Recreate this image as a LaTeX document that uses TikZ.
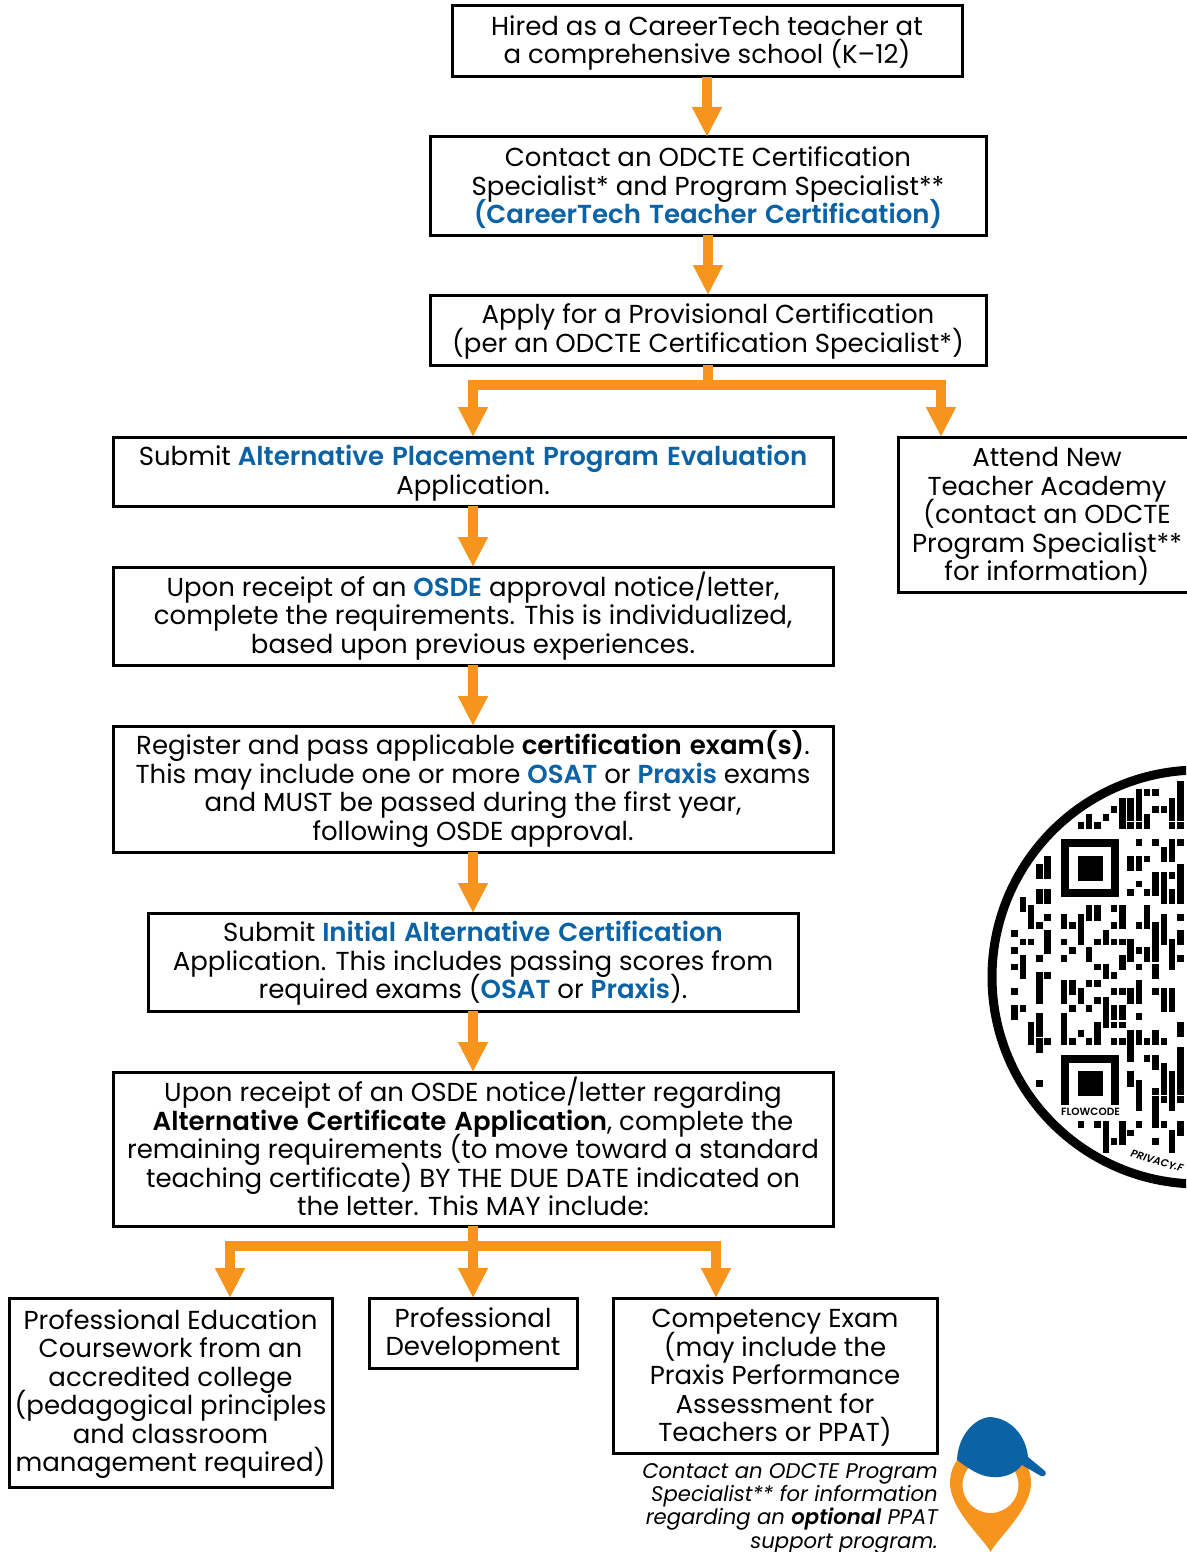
\documentclass[tikz,border=0pt]{standalone}
\usepackage{fontspec}
\setmainfont{Poppins}[BoldFont={Poppins SemiBold},BoldItalicFont={Poppins SemiBold Italic},BoldFeatures={WordSpace=1.3},BoldItalicFeatures={WordSpace=1.3}]
\usetikzlibrary{arrows.meta,calc}
\definecolor{ocorange}{HTML}{F7941D}
\definecolor{ocblue}{HTML}{0B63A5}
\newcommand{\bl}[1]{\textcolor{ocblue}{\textbf{#1}}}
\tikzset{
  flowbox/.style={draw=black,line width=3pt,fill=white,align=center,inner sep=0pt,outer sep=0pt,
    text=black,font=\fontsize{26}{28.5}\selectfont},
  arr/.style={draw=ocorange,line width=9.5pt,-{Triangle[length=30pt,width=28pt]},shorten >=0pt},
  stem/.style={draw=ocorange,line width=9.5pt},
  note/.style={align=right,inner sep=0pt,font=\fontsize{21.2}{23.3}\selectfont\itshape},
  qrlabel/.style={inner sep=0pt,font=\fontsize{10.5}{11}\selectfont\bfseries},
}
\newcommand{\topstrut}[1]{\leavevmode\vrule width 0pt height #1 depth 0pt\relax}
\newcommand{\botstrut}[1]{\vrule width 0pt height 0pt depth #1\relax}
\newcommand{\mybox}[6]{% name, x1, y1, x2, y2, text
  \node[flowbox,minimum width=#4pt-#2pt,minimum height=#5pt-#3pt] (#1) at ({(#2+#4)/2},{(#3+#5)/2}) {\topstrut{23.25pt}#6\botstrut{5.25pt}};}
\begin{document}
\begin{tikzpicture}[x=1pt,y=-1pt]
\lineskiplimit=-100pt
\lineskip=0pt
\useasboundingbox (0,0) rectangle (1186,1552);
\fill[white] (0,0) rectangle (1186,1552);

\mybox{b1}{452}{6}{962}{77}{Hired as a CareerTech teacher at\\a comprehensive school (K–12)}
\mybox{b2}{430}{137}{986}{235}{Contact an ODCTE Certification\\Specialist* and Program Specialist**\\\bl{(CareerTech Teacher Certification)}}
\mybox{b3}{430}{295}{986}{365}{Apply for a Provisional Certification\\(per an ODCTE Certification Specialist*)}
\mybox{b4}{113}{437}{833}{506}{Submit \bl{Alternative Placement Program Evaluation}\\Application.}
\mybox{nta}{898}{437}{1196}{592}{Attend New\\Teacher Academy\\(contact an ODCTE\\Program Specialist**\\for information)}
\mybox{b5}{113}{567}{833}{665}{Upon receipt of an \bl{OSDE} approval notice/letter,\\complete the requirements. This is individualized,\\based upon previous experiences.}
\mybox{b6}{113}{726}{833}{852}{Register and pass applicable \textbf{certification exam(s)}.\\This may include one or more \bl{OSAT} or \bl{Praxis} exams\\and MUST be passed during the first year,\\following OSDE approval.}
\mybox{b7}{148}{913}{798}{1011}{Submit \bl{Initial Alternative Certification}\\Application. This includes passing scores from\\required exams (\bl{OSAT} or \bl{Praxis}).}
\mybox{b8}{113}{1072}{833}{1226}{Upon receipt of an OSDE notice/letter regarding\\\textbf{Alternative Certificate Application}, complete the\\remaining requirements (to move toward a standard\\teaching certificate) BY THE DUE DATE indicated on\\the letter. This MAY include:}
\mybox{b9}{9}{1298}{332}{1487}{Professional Education\\Coursework from an\\accredited college\\(pedagogical principles\\and classroom\\management required)}
\mybox{b10}{369}{1298}{577}{1368}{Professional\\Development}
\mybox{b11}{613}{1298}{937}{1453}{Competency Exam\\(may include the\\Praxis Performance\\Assessment for\\Teachers or PPAT)}

% connector coordinates
\coordinate (j1) at (b3.south |- 0,385);
\coordinate (in4) at (b4.north);
\coordinate (inN) at (941,437);
\coordinate (j2) at (b8.south |- 0,1246);
\coordinate (in9) at (230,1298);
\coordinate (in11) at (716,1298);

\draw[arr] (b1.south) -- (b1.south |- b2.north);
\draw[arr] (b2.south) -- (b2.south |- b3.north);
\draw[stem] (b3.south) -- (j1);
\draw[arr] (j1) -| (in4);
\draw[arr] (j1) -| (inN);
\draw[arr] (b4.south) -- (b5.north);
\draw[arr] (b5.south) -- (b6.north);
\draw[arr] (b6.south) -- (b7.north);
\draw[arr] (b7.south) -- (b8.north);
\draw[stem] (b8.south) -- (j2);
\draw[arr] (j2) -| (in9);
\draw[arr] (j2) -- (b10.north);
\draw[arr] (j2) -| (in11);

\node[note,anchor=north east] (pnote) at (938,1459) {\topstrut{19pt}Contact an ODCTE Program\\Specialist** for information\\regarding an \textbf{optional} PPAT\\support program.};

% location pin and cap
\fill[ocorange,even odd rule] (990.5,1552) .. controls (985,1540) and (950,1510) .. (950,1483)
  arc[start angle=180,end angle=360,radius=40.5]
  .. controls (1031,1510) and (996,1540) .. (990.5,1552) -- cycle
  (1018.5,1485) arc[start angle=0,end angle=360,radius=28];
\fill[ocblue] (957,1460) .. controls (958,1435) and (975,1418) .. (990,1417)
  .. controls (1010,1418) and (1026,1435) .. (1028,1457)
  -- (1045,1471) .. controls (1047,1474) and (1045,1477) .. (1041,1476)
  -- (1022,1465) .. controls (1015,1474) and (1003,1478) .. (993,1477)
  .. controls (980,1477) and (968,1468) .. (957,1460) -- cycle;

% QR badge
\begin{scope}
\clip (0,0) rectangle (1186,1552);
\draw[black,line width=9pt] (1199,977) circle[radius=207];
\begin{scope}[shift={(1061,839)},x=8.3pt,y=-8.3pt]
\foreach \c/\a/\b in {14/-7/-3,10/-6/-6,11/-6/-6,9/-6/-3,8/-5/-3,7/-5/-2,11/-4/-4,13/-5/-3,12/-4/-4,
 6/-4/-4,5/-3/-3,4/-2/-2,2/-2/-2,3/-3/-2,8/-2/-2,9/-2/-2,10/-3/-2,13/-2/-2,14/-2/-2,
 9/0/0,11/0/0,14/0/0,13/0/2,12/1/2,8/2/3,9/2/3,10/2/2,14/3/7,9/5/5,8/6/6,10/6/6,11/4/6,12/4/7,13/4/4,13/6/7,
 -2/2/4,-3/3/4,-3/6/7,-2/6/7,-5/7/8,-4/8/10,-3/10/10,-2/9/9,-2/11/13,-6/11/11,-5/12/12,-4/12/12,-6/13/13,
 -6/15/15,-5/14/16,-3/14/14,-3/16/19,-2/16/16,-6/18/18,-6/20/21,-5/20/20,-3/21/23,-4/22/24,-3/24/25,-2/24/24,-3/29/29,
 0/9/10,1/10/10,2/9/12,3/8/9,4/8/9,6/8/8,7/8/10,6/10/10,9/10/10,10/8/10,11/10/14,12/9/12,14/9/9,14/11/12,13/12/15,14/14/14,
 0/12/12,0/14/14,1/13/13,3/13/14,4/12/12,5/11/12,6/12/12,7/12/12,8/12/14,9/13/13,10/13/14,4/15/15,5/15/16,6/16/16,7/14/15,9/15/15,11/15/16,
 0/17/19,1/17/18,2/18/19,3/17/17,4/17/17,4/19/19,5/19/22,3/20/20,1/20/20,6/18/18,7/18/18,6/20/21,7/20/21,8/18/19,9/17/19,11/18/18,12/18/20,13/18/20,9/21/21,
 0/21/24,1/24/24,2/23/23,3/24/24,4/22/24,6/22/22,7/22/22,6/24/24,7/24/24,8/23/26,9/23/24,10/24/24,11/23/24,12/24/24,14/22/23,
 10/26/26,11/26/27,12/27/29,13/28/32,14/25/30,8/28/29,9/29/32,12/29/30,11/30/30,11/31/34,12/31/31,14/31/31,
 2/34/34,4/34/34,5/34/37,6/36/36,7/34/36,8/35/35,9/34/34,11/36/36,12/34/34,14/34/35,13/35/37}
 {\fill[black] (\c,\a) rectangle (\c+0.78,\b+0.82);}
% top finder
\draw[black,line width=8.3pt] (0.5,0.5) rectangle (6.5,6.5);
\fill[black] (2,2) rectangle (5,5);
% bottom finder
\draw[black,line width=8.3pt] (0.5,32) -- (0.5,26.5) -- (6.5,26.5) -- (6.5,32);
\fill[black] (2,28) rectangle (5,31);
\end{scope}
\node[qrlabel,anchor=center] (flow) at (1090.5,1112) {FLOWCODE};
\node[qrlabel,anchor=west,rotate=-17,font=\fontsize{10.5}{12}\selectfont\bfseries\itshape] (priv) at (1131,1153) {PRIVACY.F};
\end{scope}
\end{tikzpicture}
\end{document}
